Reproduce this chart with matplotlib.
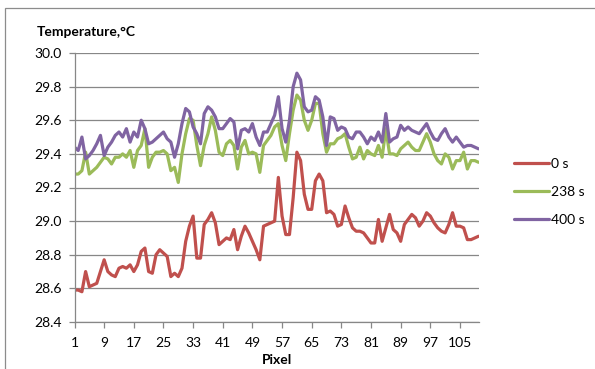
import numpy as np
import matplotlib
matplotlib.use('Agg')
import matplotlib.pyplot as plt
from matplotlib.patches import Rectangle

plt.rcParams['font.family'] = ['Lato', 'DejaVu Sans']

# values
pixel = np.arange(1, 111)

t0 = [28.59, 28.59, 28.58, 28.70, 28.61, 28.62, 28.63, 28.70, 28.77, 28.70,
      28.68, 28.67, 28.72, 28.73, 28.72, 28.74, 28.70, 28.74, 28.82, 28.84,
      28.70, 28.69, 28.80, 28.83, 28.81, 28.79, 28.67, 28.69, 28.67, 28.72,
      28.88, 28.97, 29.03, 28.78, 28.78, 28.98, 29.01, 29.05, 28.99, 28.86,
      28.88, 28.90, 28.89, 28.95, 28.83, 28.91, 28.97, 28.93, 28.88, 28.83,
      28.77, 28.97, 28.98, 28.99, 29.00, 29.26, 29.03, 28.92, 28.92, 29.14,
      29.41, 29.36, 29.16, 29.07, 29.07, 29.24, 29.28, 29.24, 29.05, 29.06,
      29.04, 28.97, 28.98, 29.09, 29.02, 28.96, 28.94, 28.94, 28.93, 28.90,
      28.87, 28.87, 29.01, 28.88, 28.96, 29.04, 28.95, 28.93, 28.88, 28.98,
      29.01, 29.04, 29.02, 28.97, 29.00, 29.05, 29.03, 28.99, 28.96, 28.94,
      28.93, 28.98, 29.05, 28.97, 28.97, 28.96, 28.89, 28.89, 28.90, 28.91]

t238 = [29.28, 29.28, 29.30, 29.41, 29.28, 29.30, 29.32, 29.35, 29.38, 29.37,
        29.34, 29.38, 29.38, 29.40, 29.38, 29.42, 29.32, 29.42, 29.45, 29.55,
        29.32, 29.38, 29.41, 29.41, 29.42, 29.40, 29.30, 29.32, 29.23, 29.40,
        29.52, 29.61, 29.60, 29.45, 29.33, 29.45, 29.52, 29.62, 29.54, 29.41,
        29.39, 29.46, 29.48, 29.45, 29.31, 29.44, 29.48, 29.40, 29.41, 29.40,
        29.29, 29.45, 29.48, 29.51, 29.56, 29.58, 29.45, 29.36, 29.52, 29.66,
        29.75, 29.72, 29.60, 29.54, 29.60, 29.70, 29.70, 29.52, 29.41, 29.46,
        29.46, 29.49, 29.50, 29.52, 29.44, 29.37, 29.38, 29.44, 29.37, 29.42,
        29.40, 29.39, 29.45, 29.38, 29.55, 29.40, 29.40, 29.39, 29.43, 29.45,
        29.47, 29.44, 29.42, 29.42, 29.47, 29.52, 29.47, 29.40, 29.36, 29.34,
        29.40, 29.38, 29.31, 29.36, 29.36, 29.41, 29.31, 29.36, 29.36, 29.35]

t400 = [29.44, 29.42, 29.50, 29.37, 29.39, 29.42, 29.46, 29.51, 29.39, 29.44,
        29.47, 29.51, 29.53, 29.50, 29.55, 29.47, 29.53, 29.50, 29.60, 29.55,
        29.46, 29.47, 29.49, 29.51, 29.53, 29.49, 29.47, 29.38, 29.46, 29.58,
        29.67, 29.65, 29.56, 29.52, 29.46, 29.64, 29.68, 29.66, 29.62, 29.55,
        29.55, 29.58, 29.61, 29.59, 29.43, 29.54, 29.55, 29.53, 29.58, 29.50,
        29.45, 29.53, 29.53, 29.58, 29.63, 29.74, 29.55, 29.47, 29.60, 29.80,
        29.88, 29.84, 29.68, 29.65, 29.66, 29.74, 29.72, 29.62, 29.45, 29.62,
        29.61, 29.54, 29.56, 29.55, 29.50, 29.49, 29.53, 29.53, 29.50, 29.46,
        29.50, 29.48, 29.53, 29.47, 29.64, 29.47, 29.49, 29.50, 29.57, 29.54,
        29.56, 29.54, 29.53, 29.52, 29.55, 29.58, 29.53, 29.49, 29.48, 29.52,
        29.55, 29.50, 29.47, 29.50, 29.47, 29.44, 29.45, 29.45, 29.44, 29.43]

labels = ['0 s', '238 s', '400 s']
colors = ['#C0504D', '#9BBB59', '#8064A2']

W, H = 595, 369
fig = plt.figure(figsize=(W / 100, H / 100), dpi=100)
ax = fig.add_axes([74.5 / W, 1 - 322 / H, (478.5 - 74.5) / W, (322 - 53) / H])

# outer chart frame
fig.patches.append(Rectangle((5 / W, -0.05), 1.2, 1 - 8 / H + 0.05, transform=fig.transFigure,
                             fill=False, edgecolor='#8c8c8c', lw=0.9))

lines = []
for y, lab, c in zip([t0, t238, t400], labels, colors):
    ln, = ax.plot(pixel, y, color=c, lw=2.3, label=lab,
                  solid_joinstyle='round', solid_capstyle='round')
    lines.append(ln)

ax.set_xlim(1, 110)
ax.set_ylim(28.4, 30.0)
ax.set_yticks(np.arange(28.4, 30.01, 0.2))
ax.set_yticklabels(['%.1f' % v for v in np.arange(28.4, 30.01, 0.2)])
ax.set_xticks(np.arange(1, 110, 8))
ax.grid(axis='y', color='#878787', lw=0.9)
ax.set_axisbelow(True)

for s in ['top', 'right']:
    ax.spines[s].set_visible(False)
for s in ['left', 'bottom']:
    ax.spines[s].set_color('#878787')
    ax.spines[s].set_linewidth(0.9)
ax.tick_params(axis='both', colors='#878787', length=4, width=0.9,
               labelcolor='black', labelsize=10)
ax.tick_params(axis='y', pad=5)
ax.tick_params(axis='x', pad=7)

fig.text(37 / W, 1 - 31.5 / H, 'Temperature,°C', fontsize=10, fontweight='bold',
         ha='left', va='center')
fig.text(277 / W, 1 - 360 / H, 'Pixel', fontsize=10, fontweight='bold',
         ha='center', va='center')

fig.legend(lines, labels, loc='center left', bbox_to_anchor=(514 / W, 1 - 191.7 / H),
           frameon=False, fontsize=10, handlelength=2.5, handletextpad=0.15,
           labelspacing=1.15, borderpad=0, borderaxespad=0)

fig.savefig('out.png', dpi=100)
